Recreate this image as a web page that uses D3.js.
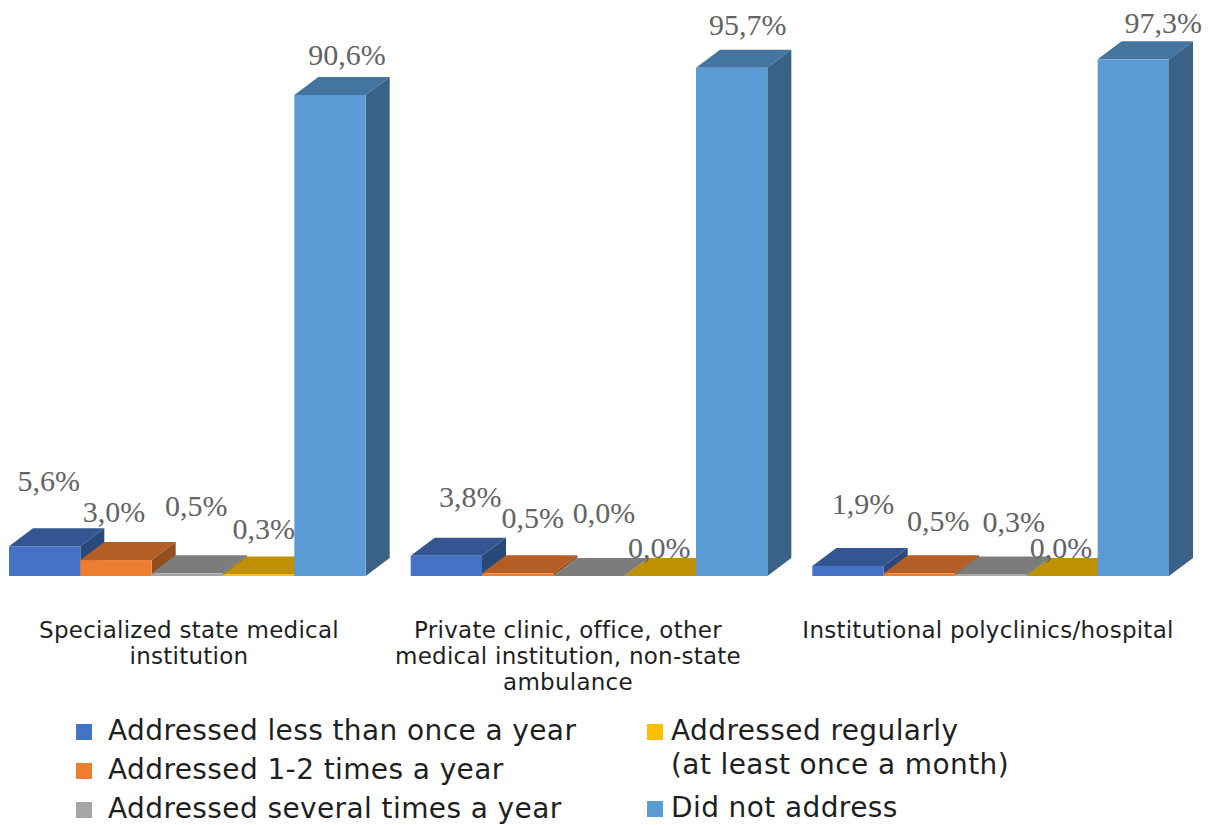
<!DOCTYPE html>
<html>
<head>
<meta charset="utf-8">
<script src="https://cdn.jsdelivr.net/npm/d3@7"></script>
<style>
  html, body { margin: 0; background: #fff; }
  svg { display: block; }
</style>
</head>
<body>
<div id="chart"></div>
<script>
const WIDTH = 1210;
const HEIGHT = 825;

const categories = ["state", "private", "institutional"];
const categoryLines = [
  ["Specialized state medical", "institution"],
  ["Private clinic, office, other", "medical institution, non-state", "ambulance"],
  ["Institutional polyclinics/hospital"],
];
const seriesNames = ["less", "oneTwo", "several", "regular", "none"];
const seriesColors = ["#4472C4", "#ED7D31", "#A5A5A5", "#FFC000", "#5B9BD5"];

const lessThanOnce = [5.6, 3.8, 1.9];
const oneTwoTimes = [3.0, 0.5, 0.5];
const severalTimes = [0.5, 0.0, 0.3];
const regularly = [0.3, 0.0, 0.0];
const didNotAddress = [90.6, 95.7, 97.3];
const seriesValues = [lessThanOnce, oneTwoTimes, severalTimes, regularly, didNotAddress];

// the labels were placed by hand in the original, so nudge each one from its bar
const labelNudgeX = [
  [4, -2, 9, 5, 17],
  [24, 15, 15, -1, 16],
  [15, 19, 23, -1, 30],
];
const labelNudgeY = [
  [-55, -38, -57, -35, -30],
  [-49, -45, -53, -18, -33],
  [-52, -42, -42, -18, -26],
];
const categoryCenters = [189, 568, 988];

const legendLeft = [
  { color: 0, lines: ["Addressed less than once a year"], y: 740 },
  { color: 1, lines: ["Addressed 1-2 times a year"], y: 779 },
  { color: 2, lines: ["Addressed several times a year"], y: 818 },
];
const legendRight = [
  { color: 3, lines: ["Addressed regularly", "(at least once a month)"], y: 740 },
  { color: 4, lines: ["Did not address"], y: 817 },
];

const DEPTH_X = 24;
const DEPTH_Y = 18;
const LABEL_FONT = "'Liberation Serif', serif";
const TEXT_FONT = "'DejaVu Sans', sans-serif";

const svg = d3
  .select("#chart")
  .append("svg")
  .attr("width", WIDTH)
  .attr("height", HEIGHT);

const xGroup = d3
  .scaleBand()
  .domain(categories)
  .range([9, 1169])
  .paddingInner(0.112)
  .paddingOuter(0);

const xBar = d3
  .scaleBand()
  .domain(seriesNames)
  .range([0, xGroup.bandwidth()]);

const yScale = d3.scaleLinear().domain([0, 100]).range([576, 45]);

function shade(color, k) {
  const c = d3.rgb(color);
  return d3.rgb(c.r * k, c.g * k, c.b * k).formatHex();
}

const rows = [];
categories.forEach((cat, c) => {
  seriesNames.forEach((name, s) => {
    rows.push({ cat, c, name, s, value: seriesValues[s][c] });
  });
});

const bars = svg
  .append("g")
  .selectAll("g")
  .data(rows)
  .join("g")
  .attr("transform", (d) => `translate(${xGroup(d.cat) + xBar(d.name)}, 0)`);

const barW = xBar.bandwidth();

bars
  .append("path")
  .attr("fill", (d) => shade(seriesColors[d.s], 0.75))
  .attr("d", (d) => {
    const t = yScale(d.value);
    return `M0,${t}l${DEPTH_X},${-DEPTH_Y}h${barW}l${-DEPTH_X},${DEPTH_Y}z`;
  });

bars
  .append("path")
  .attr("fill", (d) => shade(seriesColors[d.s], 0.63))
  .attr("d", (d) => {
    const t = yScale(d.value);
    const b = yScale(0);
    return `M${barW},${t}l${DEPTH_X},${-DEPTH_Y}V${b - DEPTH_Y}l${-DEPTH_X},${DEPTH_Y}z`;
  });

bars
  .append("rect")
  .attr("width", barW)
  .attr("y", (d) => yScale(d.value))
  .attr("height", (d) => yScale(0) - yScale(d.value))
  .attr("fill", (d) => seriesColors[d.s]);

svg
  .append("g")
  .selectAll("text")
  .data(rows)
  .join("text")
  .attr("x", (d) => xGroup(d.cat) + xBar(d.name) + barW / 2 + labelNudgeX[d.c][d.s])
  .attr("y", (d) => yScale(d.value) + labelNudgeY[d.c][d.s])
  .attr("text-anchor", "middle")
  .attr("font-family", LABEL_FONT)
  .attr("font-size", 30)
  .attr("fill", "#636363")
  .text((d) => d.value.toFixed(1).replace(".", ",") + "%");

// category names under the bars
categoryLines.forEach((lines, c) => {
  svg
    .append("g")
    .selectAll("text")
    .data(lines)
    .join("text")
    .attr("x", categoryCenters[c])
    .attr("y", (d, i) => 638 + i * 26)
    .attr("text-anchor", "middle")
    .attr("font-family", TEXT_FONT)
    .attr("font-size", 23)
    .attr("letter-spacing", 0.25)
    .attr("fill", "#1f1f1f")
    .text((d) => d);
});

function addLegend(items, boxX, textX) {
  const g = svg.append("g");
  g.selectAll("rect")
    .data(items)
    .join("rect")
    .attr("x", boxX)
    .attr("y", (d) => d.y - 16)
    .attr("width", 16)
    .attr("height", 16)
    .attr("fill", (d) => seriesColors[d.color]);
  items.forEach((item) => {
    g.append("g")
      .selectAll("text")
      .data(item.lines)
      .join("text")
      .attr("x", textX)
      .attr("y", (d, i) => item.y + i * 34)
      .attr("font-family", TEXT_FONT)
      .attr("font-size", 28)
      .attr("letter-spacing", 0.4)
      .attr("fill", "#1f1f1f")
      .text((d) => d);
  });
}

addLegend(legendLeft, 76, 108);
addLegend(legendRight, 647, 671);
</script>
</body>
</html>
